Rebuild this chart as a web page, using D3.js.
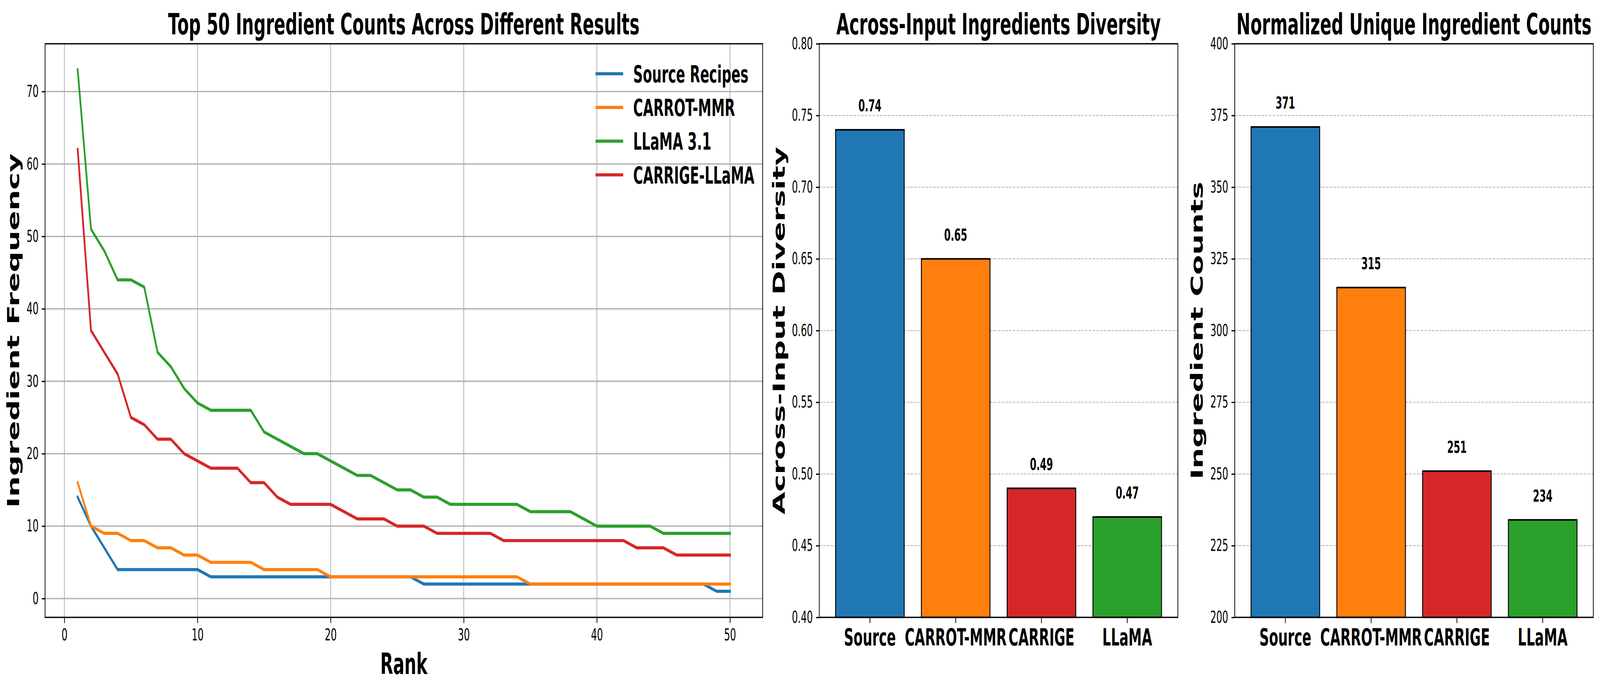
<!DOCTYPE html>
<html>
<head>
<meta charset="utf-8">
<script src="https://cdn.jsdelivr.net/npm/d3@7"></script>
<style>
  html, body { margin: 0; padding: 0; background: #fff; overflow: hidden; }
  svg { display: block; font-family: "DejaVu Sans", sans-serif; }
</style>
</head>
<body>
<svg id="chart"></svg>
<script>
// DATA
// top 50 ingredient counts, rank 1..50
const sourceRecipes = [14,10,7,4,4,4,4,4,4,4, 3,3,3,3,3,3,3,3,3,3, 3,3,3,3,3,3,2,2,2,2, 2,2,2,2,2,2,2,2,2,2, 2,2,2,2,2,2,2,2,1,1]
const carrotMmr = [16,10,9,9,8,8,7,7,6,6, 5,5,5,5,4,4,4,4,4,3, 3,3,3,3,3,3,3,3,3,3, 3,3,3,3,2,2,2,2,2,2, 2,2,2,2,2,2,2,2,2,2]
const llama31 = [73,51,48,44,44,43,34,32,29,27, 26,26,26,26,23,22,21,20,20,19, 18,17,17,16,15,15,14,14,13,13, 13,13,13,13,12,12,12,12,11,10, 10,10,10,10,9,9,9,9,9,9]
const carrigeLlama = [62,37,34,31,25,24,22,22,20,19, 18,18,18,16,16,14,13,13,13,13, 12,11,11,11,10,10,10,9,9,9, 9,9,8,8,8,8,8,8,8,8, 8,8,7,7,7,6,6,6,6,6]

const seriesNames = ["Source Recipes", "CARROT-MMR", "LLaMA 3.1", "CARRIGE-LLaMA"]
const seriesColors = ["#1f77b4", "#ff7f0e", "#2ca02c", "#d62728"]

const rankTicks = [0, 10, 20, 30, 40, 50]
const freqTicks = [0, 10, 20, 30, 40, 50, 60, 70]

// bar charts
const barCategories = ["Source", "CARROT-MMR", "CARRIGE", "LLaMA"]
const barColors = ["#1f77b4", "#ff7f0e", "#d62728", "#2ca02c"]
const diversity = [0.74, 0.65, 0.49, 0.47]
const uniqueCounts = [371, 315, 251, 234]
const diversityTicks = [0.40, 0.45, 0.50, 0.55, 0.60, 0.65, 0.70, 0.75, 0.80]
const countTicks = [200, 225, 250, 275, 300, 325, 350, 375, 400]

// LAYOUT
const W = 7171, H = 1771
const plotTop = 112, plotBottom = 1580
const tickLen = 14.6, tickPad = 14.6
const tickFont = 42, titleFont = 75, labelFont = 75

// the window is narrower than 7171, so fit the drawing to it
const svg = d3.select("#chart")
	.attr("width", window.innerWidth)
	.attr("height", window.innerHeight)
	.attr("viewBox", "0 0 " + W + " " + H)
	.attr("preserveAspectRatio", "none")
svg.append("rect").attr("width", W).attr("height", H).attr("fill", "#fff")

function styleAxis(g, size, bold) {
	g.select(".domain").remove()
	g.selectAll(".tick line").attr("stroke", "#000").attr("stroke-width", 3.3)
	g.selectAll(".tick text")
		.attr("fill", "#000")
		.style("font-size", size + "px")
		.style("font-weight", bold ? "bold" : "normal")
		.style("font-family", "'DejaVu Sans', sans-serif")
}

function addTitle(cx, text) {
	svg.append("text")
		.attr("x", cx).attr("y", 88)
		.attr("text-anchor", "middle")
		.style("font-size", titleFont + "px").style("font-weight", "bold")
		.text(text)
}

function addYLabel(x, text) {
	svg.append("text")
		.attr("transform", "translate(" + x + "," + (plotTop + plotBottom) / 2 + ") rotate(-90)")
		.attr("text-anchor", "middle")
		.style("font-size", labelFont + "px").style("font-weight", "bold")
		.text(text)
}

function addFrame(x0, x1) {
	svg.append("rect")
		.attr("x", x0).attr("y", plotTop)
		.attr("width", x1 - x0).attr("height", plotBottom - plotTop)
		.attr("fill", "none").attr("stroke", "#000").attr("stroke-width", 3.3)
}

// LINE CHART
const lx0 = 202, lx1 = 3418
const x = d3.scaleLinear().domain([-1.45, 52.45]).range([lx0, lx1])
const y = d3.scaleLinear().domain([-2.6, 76.6]).range([plotBottom, plotTop])

const grid = svg.append("g")
grid.selectAll(".vg").data(rankTicks).join("line")
	.attr("class", "vg")
	.attr("x1", function(d) { return x(d) }).attr("x2", function(d) { return x(d) })
	.attr("y1", plotTop).attr("y2", plotBottom)
	.attr("stroke", "#b0b0b0").attr("stroke-width", 3.3)
grid.selectAll(".hg").data(freqTicks).join("line")
	.attr("class", "hg")
	.attr("x1", lx0).attr("x2", lx1)
	.attr("y1", function(d) { return y(d) }).attr("y2", function(d) { return y(d) })
	.attr("stroke", "#b0b0b0").attr("stroke-width", 3.3)

const allSeries = [sourceRecipes, carrotMmr, llama31, carrigeLlama]
const line = d3.line()
	.x(function(d, i) { return x(i + 1) })
	.y(function(d) { return y(d) })

svg.append("g").selectAll("path").data(allSeries).join("path")
	.attr("d", line)
	.attr("fill", "none")
	.attr("stroke", function(d, i) { return seriesColors[i] })
	.attr("stroke-width", 8)
	.attr("stroke-linejoin", "round")
	.attr("stroke-linecap", "square")

addFrame(lx0, lx1)

svg.append("g")
	.attr("transform", "translate(0," + plotBottom + ")")
	.call(d3.axisBottom(x).tickValues(rankTicks).tickSize(tickLen).tickPadding(tickPad))
	.call(function(g) { styleAxis(g, tickFont, false) })

svg.append("g")
	.attr("transform", "translate(" + lx0 + ",0)")
	.call(d3.axisLeft(y).tickValues(freqTicks).tickSize(tickLen).tickPadding(tickPad))
	.call(function(g) { styleAxis(g, tickFont, false) })

addTitle((lx0 + lx1) / 2, "Top 50 Ingredient Counts Across Different Results")
addYLabel(86, "Ingredient Frequency")
svg.append("text")
	.attr("x", (lx0 + lx1) / 2).attr("y", 1725)
	.attr("text-anchor", "middle")
	.style("font-size", labelFont + "px").style("font-weight", "bold")
	.text("Rank")

// legend
const legend = svg.append("g").selectAll("g").data(seriesNames).join("g")
	.attr("transform", function(d, i) { return "translate(0," + (188.7 + i * 86.3) + ")" })
legend.append("line")
	.attr("x1", 2669).attr("x2", 2793)
	.attr("stroke", function(d, i) { return seriesColors[i] })
	.attr("stroke-width", 8)
legend.append("text")
	.attr("x", 2838).attr("y", 22)
	.style("font-size", "60px").style("font-weight", "bold")
	.text(function(d) { return d })

// BAR CHARTS
function barChart(bx0, bx1, values, ticks, domain, offset, fmt, title, ylabel, ylabelX) {
	const xb = d3.scaleBand().domain(barCategories).range([bx0, bx1])
		.paddingInner(0.2).paddingOuter(0.19)
	const yb = d3.scaleLinear().domain(domain).range([plotBottom, plotTop])

	svg.append("g").selectAll("line").data(ticks).join("line")
		.attr("x1", bx0).attr("x2", bx1)
		.attr("y1", function(d) { return yb(d) }).attr("y2", function(d) { return yb(d) })
		.attr("stroke", "#c8c8c8").attr("stroke-width", 3)
		.attr("stroke-dasharray", "12,5")

	svg.append("g").selectAll("rect").data(values).join("rect")
		.attr("x", function(d, i) { return xb(barCategories[i]) })
		.attr("y", function(d) { return yb(d) })
		.attr("width", xb.bandwidth())
		.attr("height", function(d) { return plotBottom - yb(d) })
		.attr("fill", function(d, i) { return barColors[i] })
		.attr("stroke", "#000").attr("stroke-width", 4)

	svg.append("g").selectAll("text").data(values).join("text")
		.attr("x", function(d, i) { return xb(barCategories[i]) + xb.bandwidth() / 2 })
		.attr("y", function(d) { return yb(d + offset) - 10 })
		.attr("text-anchor", "middle")
		.style("font-size", tickFont + "px").style("font-weight", "bold")
		.text(fmt)

	addFrame(bx0, bx1)

	svg.append("g")
		.attr("transform", "translate(0," + plotBottom + ")")
		.call(d3.axisBottom(xb).tickSize(tickLen).tickPadding(tickPad))
		.call(function(g) { styleAxis(g, 60, true) })

	svg.append("g")
		.attr("transform", "translate(" + bx0 + ",0)")
		.call(d3.axisLeft(yb).tickValues(ticks).tickSize(tickLen).tickPadding(tickPad).tickFormat(fmt))
		.call(function(g) { styleAxis(g, tickFont, false) })

	addTitle((bx0 + bx1) / 2, title)
	addYLabel(ylabelX, ylabel)
}

barChart(3672, 5279, diversity, diversityTicks, [0.40, 0.80], 0.01,
	function(d) { return d3.format(".2f")(d) },
	"Across-Input Ingredients Diversity", "Across-Input Diversity", 3517)

barChart(5534, 7141, uniqueCounts, countTicks, [200, 400], 5,
	function(d) { return d3.format("d")(d) },
	"Normalized Unique Ingredient Counts", "Ingredient Counts", 5391)
</script>
</body>
</html>
